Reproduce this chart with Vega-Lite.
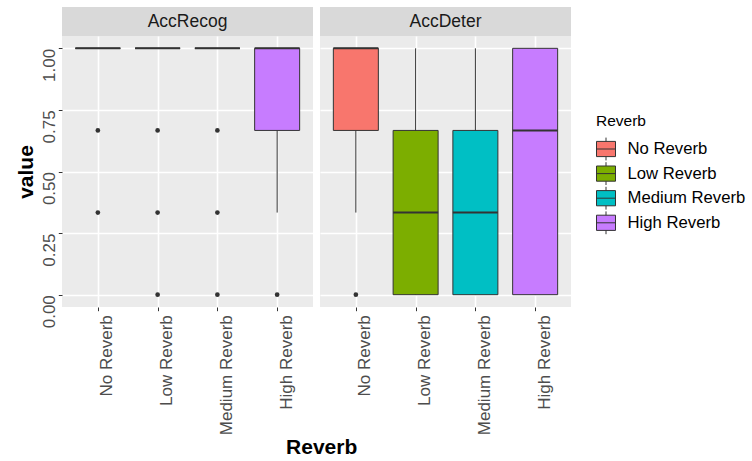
{
  "$schema": "https://vega.github.io/schema/vega-lite/v6.json",
  "background": "white",
  "padding": {"left": 15, "top": 7, "right": 0, "bottom": 0},
  "config": {
    "font": "Liberation Sans",
    "view": {"stroke": null},
    "concat": {"spacing": 7},
    "legend": {
      "titleFontSize": 15.5,
      "titleFontWeight": "normal",
      "titleColor": "#000000",
      "labelFontSize": 16.7,
      "labelColor": "#000000"
    }
  },
  "datasets": {
    "panels": [
      {"panel": "AccRecog"},
      {"panel": "AccDeter"}
    ],
    "boxes": [
      {"panel": "AccRecog", "reverb": "No Reverb", "lower": 1, "q1": 1, "median": 1, "q3": 1, "upper": 1},
      {"panel": "AccRecog", "reverb": "Low Reverb", "lower": 1, "q1": 1, "median": 1, "q3": 1, "upper": 1},
      {"panel": "AccRecog", "reverb": "Medium Reverb", "lower": 1, "q1": 1, "median": 1, "q3": 1, "upper": 1},
      {"panel": "AccRecog", "reverb": "High Reverb", "lower": 0.3333, "q1": 0.6667, "median": 1, "q3": 1, "upper": 1},
      {"panel": "AccDeter", "reverb": "No Reverb", "lower": 0.3333, "q1": 0.6667, "median": 1, "q3": 1, "upper": 1},
      {"panel": "AccDeter", "reverb": "Low Reverb", "lower": 0, "q1": 0, "median": 0.3333, "q3": 0.6667, "upper": 1},
      {"panel": "AccDeter", "reverb": "Medium Reverb", "lower": 0, "q1": 0, "median": 0.3333, "q3": 0.6667, "upper": 1},
      {"panel": "AccDeter", "reverb": "High Reverb", "lower": 0, "q1": 0, "median": 0.6667, "q3": 1, "upper": 1}
    ],
    "outliers": [
      {"panel": "AccRecog", "reverb": "No Reverb", "value": 0.6667},
      {"panel": "AccRecog", "reverb": "No Reverb", "value": 0.3333},
      {"panel": "AccRecog", "reverb": "Low Reverb", "value": 0.6667},
      {"panel": "AccRecog", "reverb": "Low Reverb", "value": 0.3333},
      {"panel": "AccRecog", "reverb": "Low Reverb", "value": 0},
      {"panel": "AccRecog", "reverb": "Medium Reverb", "value": 0.6667},
      {"panel": "AccRecog", "reverb": "Medium Reverb", "value": 0.3333},
      {"panel": "AccRecog", "reverb": "Medium Reverb", "value": 0},
      {"panel": "AccRecog", "reverb": "High Reverb", "value": 0},
      {"panel": "AccDeter", "reverb": "No Reverb", "value": 0}
    ]
  },
  "title": {
    "text": "Reverb",
    "orient": "bottom",
    "anchor": "middle",
    "frame": "bounds",
    "dx": -59,
    "offset": 2,
    "fontSize": 21,
    "fontWeight": "bold",
    "color": "#000000"
  },
  "hconcat": [
    {
      "bounds": "flush",
      "spacing": 0,
      "vconcat": [
        {
          "width": 251,
          "height": 29,
          "view": {"fill": "#D9D9D9", "stroke": null},
          "data": {"name": "panels"},
          "transform": [{"filter": "datum.panel === 'AccRecog'"}],
          "mark": {"type": "text", "fontSize": 17.5, "color": "#1A1A1A"},
          "encoding": {"text": {"field": "panel", "type": "nominal"}}
        },
        {
          "width": 251,
          "height": 271,
          "view": {"fill": "#EBEBEB", "stroke": null},
          "encoding": {
            "x": {
              "field": "reverb",
              "type": "nominal",
              "scale": {"type": "point", "padding": 0.6, "domain": ["No Reverb", "Low Reverb", "Medium Reverb", "High Reverb"]},
              "axis": {
                "title": null,
                "domain": false,
                "grid": true,
                "gridColor": "#FFFFFF",
                "gridWidth": 1.6,
                "tickColor": "#333333",
                "tickSize": 3.7,
                "tickWidth": 1,
                "labelAngle": 270,
                "labelAlign": "right",
                "labelBaseline": "top",
                "labelOffset": 1,
                "labelPadding": 4,
                "labelFontSize": 17,
                "labelColor": "#4D4D4D",
                "labelOverlap": false
              }
            }
          },
          "layer": [
            {
              "data": {"name": "boxes"},
              "transform": [{"filter": "datum.panel === 'AccRecog'"}],
              "mark": {"type": "rule", "color": "#333333", "strokeWidth": 1},
              "encoding": {
                "y": {
                  "field": "lower",
                  "type": "quantitative",
                  "scale": {"domain": [-0.05, 1.05], "nice": false, "zero": false},
                  "axis": {
                    "values": [0, 0.125, 0.25, 0.375, 0.5, 0.625, 0.75, 0.875, 1],
                    "labelExpr": "datum.value % 0.25 === 0 ? format(datum.value, '.2f') : ''",
                    "labelAngle": 270,
                    "labelAlign": "right",
                    "labelBaseline": "bottom",
                    "labelPadding": 0,
                    "labelFontSize": 17,
                    "labelColor": "#4D4D4D",
                    "labelOverlap": false,
                    "labelFlush": false,
                    "domain": false,
                    "tickColor": "#333333",
                    "tickSize": 3.7,
                    "tickWidth": 1,
                    "tickOpacity": {"condition": {"test": "datum.value % 0.25 !== 0", "value": 0}, "value": 1},
                    "grid": true,
                    "gridColor": "#FFFFFF",
                    "gridWidth": {"condition": {"test": "datum.value % 0.25 === 0", "value": 1.6}, "value": 0.8},
                    "title": "value",
                    "titleFontSize": 21,
                    "titleFontWeight": "bold",
                    "titleColor": "#000000",
                    "titlePadding": 4
                  }
                },
                "y2": {"field": "upper"}
              }
            },
            {
              "data": {"name": "boxes"},
              "transform": [{"filter": "datum.panel === 'AccRecog'"}],
              "mark": {"type": "bar", "size": 45, "stroke": "#333333", "strokeWidth": 1},
              "encoding": {
                "y": {"field": "q1", "type": "quantitative"},
                "y2": {"field": "q3"},
                "fill": {
                  "field": "reverb",
                  "type": "nominal",
                  "scale": {
                    "domain": ["No Reverb", "Low Reverb", "Medium Reverb", "High Reverb"],
                    "range": ["#F8766D", "#7CAE00", "#00BFC4", "#C77CFF"]
                  },
                  "legend": {
                    "title": "Reverb",
                    "orient": "none",
                    "legendX": 534,
                    "legendY": 107,
                    "symbolType": "M-1,-0.8H1V0.8H-1Z M-1,0H1 M0,-0.8V-1.2 M0,0.8V1.2",
                    "symbolSize": 361,
                    "symbolStrokeColor": "#333333",
                    "symbolStrokeWidth": 1,
                    "symbolOpacity": 1,
                    "labelFontSize": 16.7,
                    "labelColor": "#000000",
                    "labelOffset": 11.5,
                    "rowPadding": -3.4,
                    "titleFontSize": 15.5,
                    "titleFontWeight": "normal",
                    "titleColor": "#000000",
                    "titlePadding": 9.5
                  }
                }
              }
            },
            {
              "data": {"name": "boxes"},
              "transform": [{"filter": "datum.panel === 'AccRecog'"}],
              "mark": {"type": "tick", "size": 45, "thickness": 2, "color": "#333333", "opacity": 1},
              "encoding": {"y": {"field": "median", "type": "quantitative"}}
            },
            {
              "data": {"name": "outliers"},
              "transform": [{"filter": "datum.panel === 'AccRecog'"}],
              "mark": {"type": "circle", "size": 22, "color": "#333333", "opacity": 1},
              "encoding": {"y": {"field": "value", "type": "quantitative"}}
            }
          ]
        }
      ]
    },
    {
      "bounds": "flush",
      "spacing": 0,
      "vconcat": [
        {
          "width": 251,
          "height": 29,
          "view": {"fill": "#D9D9D9", "stroke": null},
          "data": {"name": "panels"},
          "transform": [{"filter": "datum.panel === 'AccDeter'"}],
          "mark": {"type": "text", "fontSize": 17.5, "color": "#1A1A1A"},
          "encoding": {"text": {"field": "panel", "type": "nominal"}}
        },
        {
          "width": 251,
          "height": 271,
          "view": {"fill": "#EBEBEB", "stroke": null},
          "encoding": {
            "x": {
              "field": "reverb",
              "type": "nominal",
              "scale": {"type": "point", "padding": 0.6, "domain": ["No Reverb", "Low Reverb", "Medium Reverb", "High Reverb"]},
              "axis": {
                "title": null,
                "domain": false,
                "grid": true,
                "gridColor": "#FFFFFF",
                "gridWidth": 1.6,
                "tickColor": "#333333",
                "tickSize": 3.7,
                "tickWidth": 1,
                "labelAngle": 270,
                "labelAlign": "right",
                "labelBaseline": "top",
                "labelOffset": 1,
                "labelPadding": 4,
                "labelFontSize": 17,
                "labelColor": "#4D4D4D",
                "labelOverlap": false
              }
            }
          },
          "layer": [
            {
              "data": {"name": "boxes"},
              "transform": [{"filter": "datum.panel === 'AccDeter'"}],
              "mark": {"type": "rule", "color": "#333333", "strokeWidth": 1},
              "encoding": {
                "y": {
                  "field": "lower",
                  "type": "quantitative",
                  "scale": {"domain": [-0.05, 1.05], "nice": false, "zero": false},
                  "axis": {
                    "values": [0, 0.125, 0.25, 0.375, 0.5, 0.625, 0.75, 0.875, 1],
                    "labels": false,
                    "ticks": false,
                    "domain": false,
                    "grid": true,
                    "gridColor": "#FFFFFF",
                    "gridWidth": {"condition": {"test": "datum.value % 0.25 === 0", "value": 1.6}, "value": 0.8},
                    "title": null
                  }
                },
                "y2": {"field": "upper"}
              }
            },
            {
              "data": {"name": "boxes"},
              "transform": [{"filter": "datum.panel === 'AccDeter'"}],
              "mark": {"type": "bar", "size": 45, "stroke": "#333333", "strokeWidth": 1},
              "encoding": {
                "y": {"field": "q1", "type": "quantitative"},
                "y2": {"field": "q3"},
                "fill": {
                  "field": "reverb",
                  "type": "nominal",
                  "scale": {
                    "domain": ["No Reverb", "Low Reverb", "Medium Reverb", "High Reverb"],
                    "range": ["#F8766D", "#7CAE00", "#00BFC4", "#C77CFF"]
                  },
                  "legend": {
                    "title": "Reverb",
                    "orient": "none",
                    "legendX": 534,
                    "legendY": 107,
                    "symbolType": "M-1,-0.8H1V0.8H-1Z M-1,0H1 M0,-0.8V-1.2 M0,0.8V1.2",
                    "symbolSize": 361,
                    "symbolStrokeColor": "#333333",
                    "symbolStrokeWidth": 1,
                    "symbolOpacity": 1,
                    "labelFontSize": 16.7,
                    "labelColor": "#000000",
                    "labelOffset": 11.5,
                    "rowPadding": -3.4,
                    "titleFontSize": 15.5,
                    "titleFontWeight": "normal",
                    "titleColor": "#000000",
                    "titlePadding": 9.5
                  }
                }
              }
            },
            {
              "data": {"name": "boxes"},
              "transform": [{"filter": "datum.panel === 'AccDeter'"}],
              "mark": {"type": "tick", "size": 45, "thickness": 2, "color": "#333333", "opacity": 1},
              "encoding": {"y": {"field": "median", "type": "quantitative"}}
            },
            {
              "data": {"name": "outliers"},
              "transform": [{"filter": "datum.panel === 'AccDeter'"}],
              "mark": {"type": "circle", "size": 22, "color": "#333333", "opacity": 1},
              "encoding": {"y": {"field": "value", "type": "quantitative"}}
            }
          ]
        }
      ]
    }
  ]
}
